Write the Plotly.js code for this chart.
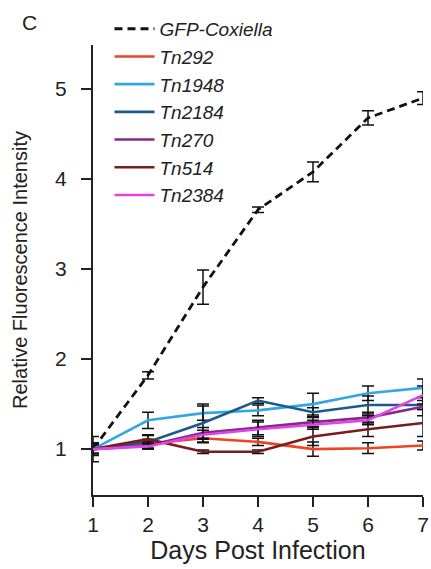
<!DOCTYPE html>
<html>
<head>
<meta charset="utf-8">
<script src="https://cdn.plot.ly/plotly-3.0.1.min.js"></script>
<style>html,body{margin:0;padding:0;background:#fff;}#chart{width:431px;height:569px;}</style>
</head>
<body>
<div id="chart"></div>
<script>
const days = [1, 2, 3, 4, 5, 6, 7];
const seriesNames = ["GFP-Coxiella", "Tn292", "Tn1948", "Tn2184", "Tn270", "Tn514", "Tn2384"];
const gfpCoxiella = [1.00, 1.82, 2.80, 3.66, 4.08, 4.68, 4.90];
const gfpCoxiellaErr = [0.07, 0.04, 0.19, 0.03, 0.11, 0.08, 0.07];
const tn292 = [1.00, 1.06, 1.12, 1.08, 1.00, 1.01, 1.04];
const tn292Err = [0.05, 0.05, 0.05, 0.04, 0.08, 0.06, 0.05];
const tn1948 = [1.00, 1.32, 1.40, 1.43, 1.50, 1.62, 1.68];
const tn1948Err = [0.05, 0.09, 0.08, 0.06, 0.12, 0.08, 0.10];
const tn2184 = [1.00, 1.08, 1.29, 1.54, 1.41, 1.49, 1.49];
const tn2184Err = [0.14, 0.07, 0.21, 0.03, 0.05, 0.10, 0.05];
const tn270 = [1.00, 1.04, 1.18, 1.24, 1.30, 1.35, 1.47];
const tn270Err = [0.05, 0.04, 0.06, 0.08, 0.05, 0.06, 0.10];
const tn514 = [1.00, 1.11, 0.97, 0.97, 1.14, 1.22, 1.29];
const tn514Err = [0.05, 0.05, 0.02, 0.02, 0.10, 0.08, 0.15];
const tn2384 = [1.00, 1.03, 1.16, 1.22, 1.27, 1.32, 1.60];
const tn2384Err = [0.05, 0.03, 0.05, 0.08, 0.05, 0.05, 0.10];

const values = [gfpCoxiella, tn292, tn1948, tn2184, tn270, tn514, tn2384];
const errors = [gfpCoxiellaErr, tn292Err, tn1948Err, tn2184Err, tn270Err, tn514Err, tn2384Err];
const colors = ["#111111", "#ee4422", "#33a6e6", "#1d5a8c", "#86298a", "#7a1c1e", "#e044e6"];

const traces = seriesNames.map((name, i) => ({
  x: days,
  y: values[i],
  name: name,
  type: "scatter",
  mode: "lines",
  cliponaxis: false,
  legendrank: i + 1,
  line: {color: colors[i], width: i === 0 ? 2.8 : 2.6, dash: i === 0 ? "8px,5px" : "solid"},
  error_y: {type: "data", array: errors[i], visible: true, color: "#111111", thickness: 1.5, width: 6}
}));

const layout = {
  width: 431,
  height: 569,
  margin: {l: 93, r: 8, t: 45, b: 74},
  paper_bgcolor: "#ffffff",
  plot_bgcolor: "#ffffff",
  font: {family: "Liberation Sans, Arial, sans-serif", color: "#222222"},
  showlegend: true,
  legend: {
    x: 0.05, y: 1.078, xanchor: "left", yanchor: "top",
    bgcolor: "rgba(0,0,0,0)",
    font: {size: 19, style: "italic", color: "#222222"},
    tracegroupgap: 0,
    itemwidth: 40
  },
  annotations: [{
    text: "C", xref: "paper", yref: "paper", x: -0.221, y: 1.051,
    xanchor: "left", yanchor: "middle", showarrow: false,
    font: {size: 21, color: "#222222"}
  }],
  xaxis: {
    range: [1, 7],
    tickvals: days,
    ticktext: days.map(String),
    showgrid: false, zeroline: false,
    showline: true, linecolor: "#222222", linewidth: 2,
    ticks: "outside", ticklen: 10, tickwidth: 2, tickcolor: "#222222",
    tickfont: {size: 21},
    title: {text: "Days Post Infection", font: {size: 25}, standoff: 5}
  },
  yaxis: {
    range: [0.49, 5.49],
    tickvals: [1, 2, 3, 4, 5],
    showgrid: false, zeroline: false,
    showline: true, linecolor: "#222222", linewidth: 2,
    ticks: "outside", ticklen: 10, tickwidth: 2, tickcolor: "#222222",
    ticklabelstandoff: 10,
    tickfont: {size: 21},
    title: {text: "Relative Fluorescence Intensity", font: {size: 20}, standoff: 22}
  }
};

Plotly.newPlot("chart", traces, layout, {displayModeBar: false, staticPlot: true});
</script>
</body>
</html>
